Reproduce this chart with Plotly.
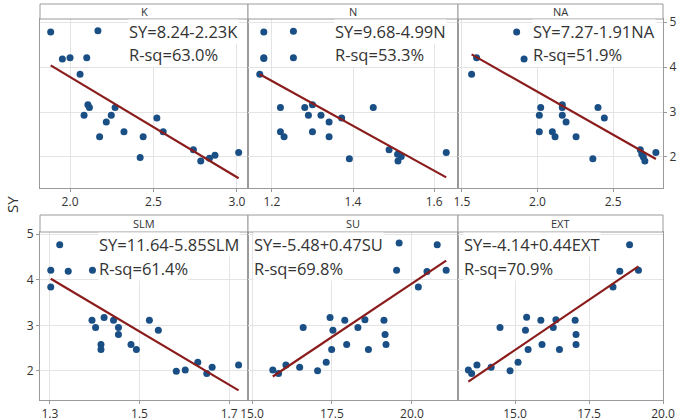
import plotly.graph_objects as go

W, H = 685, 420

# panel names, fitted equations and R-sq labels
panels = ["K", "N", "NA", "SLM", "SU", "EXT"]
intercepts = [8.24, 9.68, 7.27, 11.64, -5.48, -4.14]
slopes = [-2.23, -4.99, -1.91, -5.85, 0.47, 0.44]
eq_text = ["SY=8.24-2.23K", "SY=9.68-4.99N", "SY=7.27-1.91NA",
           "SY=11.64-5.85SLM", "SY=-5.48+0.47SU", "SY=-4.14+0.44EXT"]
rsq_text = ["R-sq=63.0%", "R-sq=53.3%", "R-sq=51.9%",
            "R-sq=61.4%", "R-sq=69.8%", "R-sq=70.9%"]

# data
k_x = [1.884, 2.167, 1.954, 2.0, 2.10, 2.06, 2.107, 2.116, 2.084, 2.27, 2.247, 2.217,
       2.177, 2.323, 2.438, 2.52, 2.558, 2.42, 2.739, 2.783, 2.835, 2.868, 3.01]
k_y = [4.78, 4.81, 4.18, 4.21, 4.21, 3.84, 3.16, 3.10, 2.93, 3.10, 2.93, 2.78,
       2.45, 2.56, 2.45, 2.87, 2.56, 1.99, 2.16, 1.91, 1.97, 2.04, 2.10]

n_x = [1.180, 1.253, 1.180, 1.180, 1.253, 1.170, 1.221, 1.281, 1.300, 1.290, 1.321, 1.341,
       1.372, 1.450, 1.221, 1.230, 1.300, 1.341, 1.391, 1.489, 1.510, 1.511, 1.519, 1.630]
n_y = [4.78, 4.80, 4.19, 4.21, 4.21, 3.84, 3.10, 3.10, 3.16, 2.93, 2.93, 2.78,
       2.87, 3.10, 2.56, 2.45, 2.56, 2.45, 1.96, 2.16, 2.06, 1.91, 2.01, 2.10]

na_x = [1.862, 1.597, 1.911, 1.564, 2.021, 2.012, 2.012, 2.164, 2.164, 2.164, 2.189, 2.098,
        2.116, 2.255, 2.400, 2.442, 2.366, 2.680, 2.690, 2.700, 2.710, 2.783]
na_y = [4.78, 4.21, 4.18, 3.84, 3.10, 2.93, 2.56, 3.16, 3.10, 2.93, 2.78, 2.56,
        2.45, 2.45, 3.10, 2.87, 1.96, 2.16, 2.06, 2.00, 1.91, 2.10]

slm_x = [1.322, 1.302, 1.341, 1.395, 1.302, 1.394, 1.402, 1.421, 1.442, 1.453, 1.453, 1.414,
         1.414, 1.481, 1.493, 1.522, 1.542, 1.582, 1.602, 1.630, 1.650, 1.662, 1.721]
slm_y = [4.77, 4.21, 4.19, 4.21, 3.84, 3.11, 2.95, 3.17, 3.11, 2.95, 2.80, 2.58,
         2.47, 2.58, 2.47, 3.11, 2.89, 1.99, 2.02, 2.19, 1.94, 2.08, 2.13]

su_x = [19.60, 20.79, 19.52, 20.47, 21.07, 20.20, 17.44, 17.90, 18.53, 19.125, 16.60, 17.53,
        18.31, 19.16, 17.96, 19.19, 17.49, 18.64, 17.32, 16.06, 16.49, 15.65, 15.83, 17.05]
su_y = [4.81, 4.77, 4.21, 4.18, 4.21, 3.84, 3.17, 3.11, 3.12, 3.11, 2.95, 2.89,
        2.95, 2.80, 2.58, 2.58, 2.47, 2.47, 2.19, 2.13, 2.08, 2.02, 1.94, 2.00]

ext_x = [18.87, 18.54, 19.17, 18.31, 15.39, 15.87, 16.38, 17.03, 14.49, 15.35, 16.29, 17.06,
         15.91, 17.06, 15.44, 16.50, 15.10, 13.71, 14.19, 13.42, 13.53, 14.83]
ext_y = [4.77, 4.19, 4.21, 3.84, 3.18, 3.11, 3.12, 3.11, 2.95, 2.89, 2.95, 2.80,
         2.58, 2.58, 2.47, 2.47, 2.19, 2.13, 2.08, 2.02, 1.94, 2.00]

xs = [k_x, n_x, na_x, slm_x, su_x, ext_x]
ys = [k_y, n_y, na_y, slm_y, su_y, ext_y]

x_ranges = [[1.82, 3.066], [1.141, 1.659], [1.474, 2.83],
            [1.278, 1.742], [14.875, 21.44], [13.07, 20.0]]
x_ticks = [[2.0, 2.5, 3.0], [1.2, 1.4, 1.6], [1.5, 2.0, 2.5],
           [1.3, 1.5, 1.7], [15.0, 17.5, 20.0], [15.0, 17.5, 20.0]]
x_ticktext = [["2.0", "2.5", "3.0"], ["1.2", "1.4", "1.6"], ["1.5", "2.0", "2.5"],
              ["1.3", "1.5", "1.7"], ["15.0", "17.5", "20.0"], ["15.0", "17.5", "20.0"]]
y_ranges = [[1.31, 5.07], [1.36, 5.05]]

# pixel layout
col_l = [40, 248, 458]
col_r = [248, 458, 663]
row_top = [19, 232]
row_bot = [188, 400]
strip_top = [4, 215]
eq_left = [128, 334, 532, 98, 253, 463]
eq_y = [[32, 55], [244, 268]]

MARK = "#1a4f85"
LINE = "#8b1c1c"
FRAME = "#9a9a9a"
GRID = "#e4e4e4"
TXT = "#333333"
FONT = "Open Sans"


def px(x):
    return x / W


def py(y):
    return 1 - y / H


fig = go.Figure()
layout = {}
shapes = []
annotations = []

for i, name in enumerate(panels):
    r, c = divmod(i, 3)
    n = i + 1
    xa = "x" if n == 1 else f"x{n}"
    ya = "y" if n == 1 else f"y{n}"

    fig.add_trace(go.Scatter(
        x=xs[i], y=ys[i], mode="markers", xaxis=xa, yaxis=ya,
        marker=dict(size=7, color=MARK), showlegend=False, cliponaxis=False,
    ))
    lo, hi = min(xs[i]), max(xs[i])
    fig.add_trace(go.Scatter(
        x=[lo, hi], y=[intercepts[i] + slopes[i] * lo, intercepts[i] + slopes[i] * hi],
        mode="lines", xaxis=xa, yaxis=ya,
        line=dict(color=LINE, width=2.2), showlegend=False,
    ))

    show_y = (i == 2) or (i == 3)
    layout["xaxis" if n == 1 else f"xaxis{n}"] = dict(
        domain=[px(col_l[c]), px(col_r[c])], anchor=ya, range=x_ranges[i],
        tickvals=x_ticks[i], ticktext=x_ticktext[i], automargin=False,
        showgrid=True, gridcolor=GRID, zeroline=False,
        showline=True, linecolor=FRAME, linewidth=1, mirror=True,
        ticks="outside", ticklen=3, tickcolor=FRAME,
        tickfont=dict(family=FONT, size=12, color=TXT),
    )
    layout["yaxis" if n == 1 else f"yaxis{n}"] = dict(
        domain=[py(row_bot[r]), py(row_top[r])], anchor=xa, range=y_ranges[r],
        tickvals=[2, 3, 4, 5], showticklabels=show_y, automargin=False,
        side="right" if i == 2 else "left",
        showgrid=True, gridcolor=GRID, zeroline=False,
        showline=True, linecolor=FRAME, linewidth=1, mirror=True,
        ticks="outside" if show_y else "", ticklen=3, tickcolor=FRAME,
        tickfont=dict(family=FONT, size=12, color=TXT),
    )

    # strip header
    shapes.append(dict(type="rect", xref="paper", yref="paper",
                       x0=px(col_l[c]), x1=px(col_r[c]),
                       y0=py(row_top[r]), y1=py(strip_top[r]),
                       line=dict(color=FRAME, width=1), fillcolor="white"))
    annotations.append(dict(text=name, xref="paper", yref="paper",
                            x=px((col_l[c] + col_r[c]) / 2),
                            y=py((strip_top[r] + row_top[r]) / 2),
                            showarrow=False, xanchor="center", yanchor="middle",
                            font=dict(family=FONT, size=11, color=TXT)))
    # equation and R-sq
    for txt, yy in zip([eq_text[i], rsq_text[i]], eq_y[r]):
        annotations.append(dict(text=txt, xref="paper", yref="paper",
                                x=px(eq_left[i]), y=py(yy),
                                showarrow=False, xanchor="left", yanchor="middle",
                                bgcolor="white", borderpad=0,
                                font=dict(family=FONT, size=16.5, color=TXT)))

annotations.append(dict(text="SY", xref="paper", yref="paper", x=px(12), y=py(205),
                        showarrow=False, textangle=-90, xanchor="center", yanchor="middle",
                        font=dict(family=FONT, size=15, color=TXT)))

fig.update_layout(
    width=W, height=H,
    margin=dict(l=0, r=0, t=0, b=0),
    paper_bgcolor="white", plot_bgcolor="white",
    shapes=shapes, annotations=annotations,
    **layout,
)
# drop the page's default body margin so the figure sits at the window corner
fig.write_html("out.html", config={"displayModeBar": False},
               post_script="document.body.style.margin = '0';")
